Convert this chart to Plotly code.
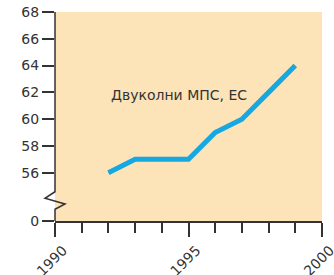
import plotly.graph_objects as go

years = [1992, 1993, 1994, 1995, 1996, 1997, 1998, 1999]
values = [56, 57, 57, 57, 59, 60, 62, 64]
series_label = "Двуколни МПС, ЕС"
ytick_vals = [52.4, 56, 58, 60, 62, 64, 66, 68]
ytick_text = ["0", "56", "58", "60", "62", "64", "66", "68"]
xtick_vals = [1990, 1995, 2000]

FONT = "DejaVu Sans"

fig = go.Figure()
fig.add_trace(go.Scatter(x=years, y=values, mode="lines",
                         line=dict(color="#16A8E0", width=5), showlegend=False))

fig.add_annotation(x=1997.25, y=61.8, text=series_label, showarrow=False,
                   xanchor="right",
                   font=dict(size=14, color="#333333", family=FONT))

# broken y axis line with zigzag
fig.add_shape(type="path", xref="paper", yref="paper",
              path="M 0,1 L 0,0.14 L -0.0375,0.1086 L 0.0375,0.0813 L 0,0.056 L 0,0",
              line=dict(color="#333333", width=1.5), layer="above")

fig.update_layout(
    width=334, height=275,
    margin=dict(l=55, r=12, t=12, b=54, autoexpand=False),
    paper_bgcolor="white",
    plot_bgcolor="#FDE3B8",
    font=dict(family=FONT, size=14, color="#333333"),
    xaxis=dict(range=[1990, 2000], tickvals=xtick_vals, tickangle=-45,
               automargin=False,
               showgrid=False, zeroline=False, showline=True,
               linecolor="#333333", linewidth=1.5,
               ticks="outside", ticklen=14, tickcolor="#333333", tickwidth=1.5,
               minor=dict(dtick=1, ticks="outside", ticklen=10,
                          tickcolor="#333333", tickwidth=1.5),
               ticklabelshift=8, ticklabeloverflow="allow",
               tickfont=dict(size=14, color="#333333")),
    yaxis=dict(range=[52.4, 68], tickvals=ytick_vals, ticktext=ytick_text,
               automargin=False,
               showgrid=False, zeroline=False, showline=False,
               ticks="outside", ticklen=12, tickcolor="#333333", tickwidth=1.5,
               tickfont=dict(size=14, color="#333333")),
)

fig.write_html("out.html", config={"displayModeBar": False},
               post_script="document.body.style.margin='0';")
